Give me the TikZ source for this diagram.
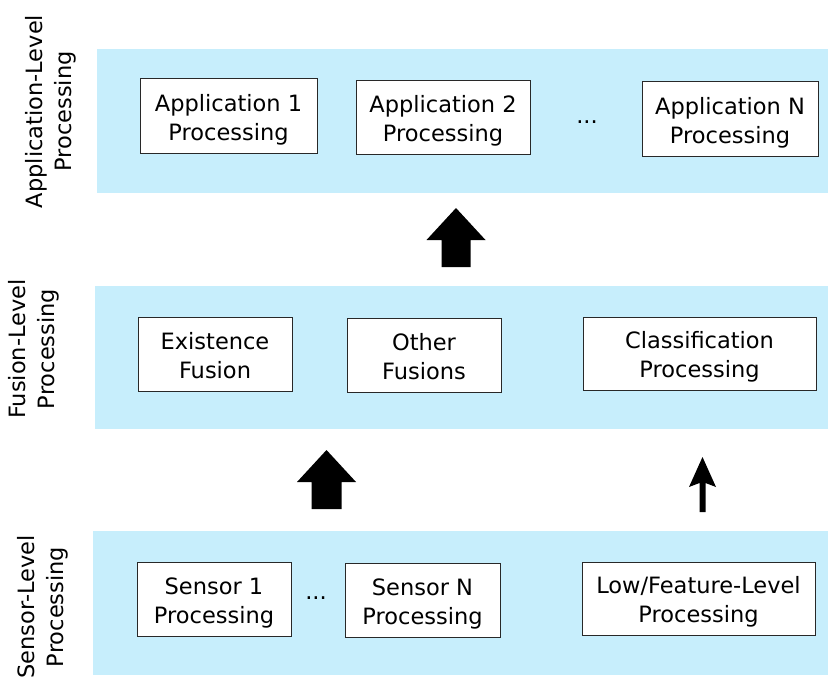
\documentclass[tikz,border=0pt]{standalone}
\usepackage{fontspec}
\setmainfont{DejaVu Sans}
\usetikzlibrary{calc}
\definecolor{bandblue}{RGB}{199,238,252}
\definecolor{boxline}{RGB}{40,40,40}
\newcommand{\twoline}[2]{\raisebox{-4pt}[\height][\depth]{\begin{tabular}{@{}c@{}}#1\\#2\end{tabular}}}
\begin{document}
\begin{tikzpicture}[x=1pt,y=-1pt,
  every node/.style={font=\fontsize{22.5}{29}\selectfont},
  band/.style={fill=bandblue,draw=none},
  procbox/.style={draw=boxline,line width=1pt,fill=white,inner sep=0pt},
  sidelabel/.style={rotate=90,align=center,inner sep=0pt},
  dotsnode/.style={anchor=base,inner sep=0pt},
  bigarrow/.style={fill=black,draw=none}]
\useasboundingbox (0,0) rectangle (828,677);
% bands
\fill[band] (97,49) rectangle (828,193);
\fill[band] (95,286) rectangle (828,429);
\fill[band] (93,531) rectangle (828,675);
% side labels
\node[sidelabel] (lapp) at (51,111.5) {Application-Level\\Processing};
\node[sidelabel] (lfus) at (34,349) {Fusion-Level\\Processing};
\node[sidelabel] (lsen) at (43,607) {Sensor-Level\\Processing};
% application level
\node[procbox,minimum width=177pt,minimum height=74pt] (app1) at (228.5,116) {\twoline{Application 1}{Processing}};
\node[procbox,minimum width=174pt,minimum height=73pt] (app2) at (443,117.5) {\twoline{Application 2}{Processing}};
\node[dotsnode] (appdots) at (587,123) {...};
\node[procbox,minimum width=176pt,minimum height=74pt] (appN) at (730,119) {\twoline{Application N}{Processing}};
% fusion level
\node[procbox,minimum width=154pt,minimum height=74pt] (exist) at (215,354) {\twoline{Existence}{Fusion}};
\node[procbox,minimum width=154pt,minimum height=74pt] (other) at (424,355) {\twoline{Other}{Fusions}};
\node[procbox,minimum width=233pt,minimum height=73pt] (class) at (699.5,353.5) {\twoline{Classification}{Processing}};
% sensor level
\node[procbox,minimum width=154pt,minimum height=74pt] (sen1) at (214,599) {\twoline{Sensor 1}{Processing}};
\node[dotsnode] (sendots) at (316,599) {...};
\node[procbox,minimum width=155pt,minimum height=74pt] (senN) at (422.5,600) {\twoline{Sensor N}{Processing}};
\node[procbox,minimum width=233pt,minimum height=73pt] (low) at (698.5,598.5) {\twoline{Low/Feature-Level}{Processing}};
% arrows
\coordinate (t1) at (456,208);
\coordinate (t2) at (326.5,450);
\coordinate (t3) at (702.5,457);
\fill[bigarrow] (t1) -- ($(t1)+(29.5,32)$) -- ($(t1)+(14.5,32)$) -- ($(t1)+(14.5,59)$)
  -- ($(t1)+(-14.5,59)$) -- ($(t1)+(-14.5,32)$) -- ($(t1)+(-29.5,32)$) -- cycle;
\fill[bigarrow] (t2) -- ($(t2)+(29.5,32)$) -- ($(t2)+(15,32)$) -- ($(t2)+(15,59)$)
  -- ($(t2)+(-15,59)$) -- ($(t2)+(-15,32)$) -- ($(t2)+(-29.5,32)$) -- cycle;
\fill[bigarrow] (t3) -- ($(t3)+(13.5,30)$) -- ($(t3)+(3,26)$) -- ($(t3)+(3,55)$)
  -- ($(t3)+(-3,55)$) -- ($(t3)+(-3,26)$) -- ($(t3)+(-13.5,30)$) -- cycle;
\end{tikzpicture}
\end{document}
